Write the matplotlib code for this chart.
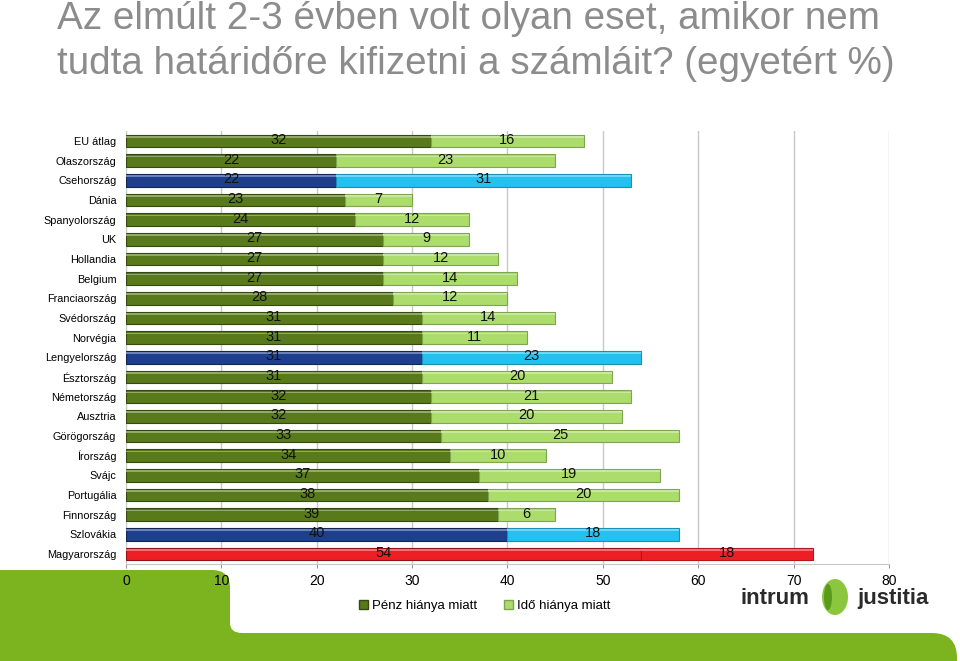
import matplotlib
matplotlib.use("Agg")
import matplotlib.pyplot as plt
from matplotlib.patches import Patch, PathPatch, Ellipse
from matplotlib.path import Path
from matplotlib.transforms import IdentityTransform
import numpy as np

plt.rcParams['font.family'] = ['Liberation Sans', 'DejaVu Sans']

categories = ["EU átlag", "Olaszország", "Csehország", "Dánia", "Spanyolország", "UK",
              "Hollandia", "Belgium", "Franciaország", "Svédország", "Norvégia",
              "Lengyelország", "Észtország", "Németország", "Ausztria", "Görögország",
              "Írország", "Svájc", "Portugália", "Finnország", "Szlovákia", "Magyarország"]
penz = [32, 22, 22, 23, 24, 27, 27, 27, 28, 31, 31, 31, 31, 32, 32, 33, 34, 37, 38, 39, 40, 54]
ido = [16, 23, 31, 7, 12, 9, 12, 14, 12, 14, 11, 23, 20, 21, 20, 25, 10, 19, 20, 6, 18, 18]
series_names = ["Pénz hiánya miatt", "Idő hiánya miatt"]
xticks = [0, 10, 20, 30, 40, 50, 60, 70, 80]
title = "Az elmúlt 2-3 évben volt olyan eset, amikor nem\ntudta határidőre kifizetni a számláit? (egyetért %)"

# colour schemes (row highlights)
green = ("#587a1a", "#abdc6c")
blue = ("#1e3f8e", "#22c1ef")
red = ("#ee1f24", "#ee1f24")
highlight = {"Csehország": blue, "Lengyelország": blue, "Szlovákia": blue, "Magyarország": red}

def darker(c, f=0.6):
    r, g, b = matplotlib.colors.to_rgb(c)
    return (r * f, g * f, b * f)

def lighter(c, f=0.45):
    r, g, b = matplotlib.colors.to_rgb(c)
    return (r + (1 - r) * f, g + (1 - g) * f, b + (1 - b) * f)

fig = plt.figure(figsize=(9.6, 6.61), dpi=100)

# background green shape (pixel coordinates, origin bottom-left)
H = 661
def P(x, y):
    return (x, H - y)
verts = [P(0, 570), P(212, 570), P(230, 570), P(230, 588), P(230, 623), P(230, 633), P(242, 633),
         P(932, 633), P(957, 633), P(957, 658), P(957, 661), P(0, 661), P(0, 570)]
codes = [Path.MOVETO, Path.LINETO, Path.CURVE3, Path.CURVE3, Path.LINETO, Path.CURVE3, Path.CURVE3,
         Path.LINETO, Path.CURVE3, Path.CURVE3, Path.LINETO, Path.LINETO, Path.CLOSEPOLY]
bg = PathPatch(Path(verts, codes), facecolor="#7cb41f", edgecolor="none",
               transform=IdentityTransform(), zorder=-10)
fig.patches.append(bg)

ax = fig.add_axes([0.13125, 0.147, 0.926 - 0.13125, 0.8015 - 0.147])
ax.set_facecolor("none")
ax.patch.set_alpha(0)
y = np.arange(len(categories))
h = 0.64
for i, cat in enumerate(categories):
    c1, c2 = highlight.get(cat, green)
    ax.barh(i, penz[i], height=h, color=c1, edgecolor=darker(c1), linewidth=0.8, zorder=3)
    ax.barh(i, ido[i], left=penz[i], height=h, color=c2, edgecolor=darker(c2, 0.75), linewidth=0.8, zorder=3)
    # top highlight for bevel look
    ax.barh(i - h * 0.33, penz[i], height=h * 0.14, color=lighter(c1, 0.35), linewidth=0, zorder=4)
    ax.barh(i - h * 0.33, ido[i], left=penz[i], height=h * 0.14, color=lighter(c2, 0.35), linewidth=0, zorder=4)
    ax.text(penz[i] / 2, i - 0.05, str(penz[i]), ha="center", va="center", fontsize=10.5, color="#111111", zorder=5)
    ax.text(penz[i] + ido[i] / 2, i - 0.05, str(ido[i]), ha="center", va="center", fontsize=10.5, color="#111111", zorder=5)

ax.set_xlim(0, 80)
ax.set_ylim(len(categories) - 0.5, -0.5)
ax.set_xticks(xticks)
ax.set_xticklabels([str(t) for t in xticks], fontsize=10)
ax.set_yticks(y)
ax.set_yticklabels(categories, fontsize=7.8)
ax.tick_params(axis="y", length=0, pad=7)
ax.tick_params(axis="x", length=3, color="#999999", pad=4)
ax.grid(axis="x", color="#c8c8c8", linewidth=1, zorder=0)
for s in ["top", "right", "left"]:
    ax.spines[s].set_visible(False)
ax.spines["bottom"].set_color("#c8c8c8")
ax.set_axisbelow(True)

fig.text(0.059, 0.998, title, ha="left", va="top", fontsize=27.8, color="#8c8c8c", linespacing=1.3)

handles = [Patch(facecolor=green[0], edgecolor=darker(green[0])),
           Patch(facecolor=green[1], edgecolor=darker(green[1], 0.75))]
fig.legend(handles, series_names, loc="center", bbox_to_anchor=(0.505, 0.083), ncol=2, frameon=False,
           fontsize=9.5, handlelength=0.7, handleheight=0.7, handletextpad=0.3, columnspacing=2.0)

# logo
fig.text(0.807, 0.094, "intrum", ha="center", va="center", fontsize=16, fontweight="bold", color="#2a2a2a")
fig.text(0.93, 0.094, "justitia", ha="center", va="center", fontsize=16, fontweight="bold", color="#2a2a2a")
logo = Ellipse((835, H - 597), 26, 36, facecolor="#8cc63f", edgecolor="none", transform=IdentityTransform())
fig.patches.append(logo)
logo2 = Ellipse((828, H - 597), 8, 26, facecolor="#5a9a1a", edgecolor="none", transform=IdentityTransform())
fig.patches.append(logo2)

fig.savefig("out.png", dpi=100)
